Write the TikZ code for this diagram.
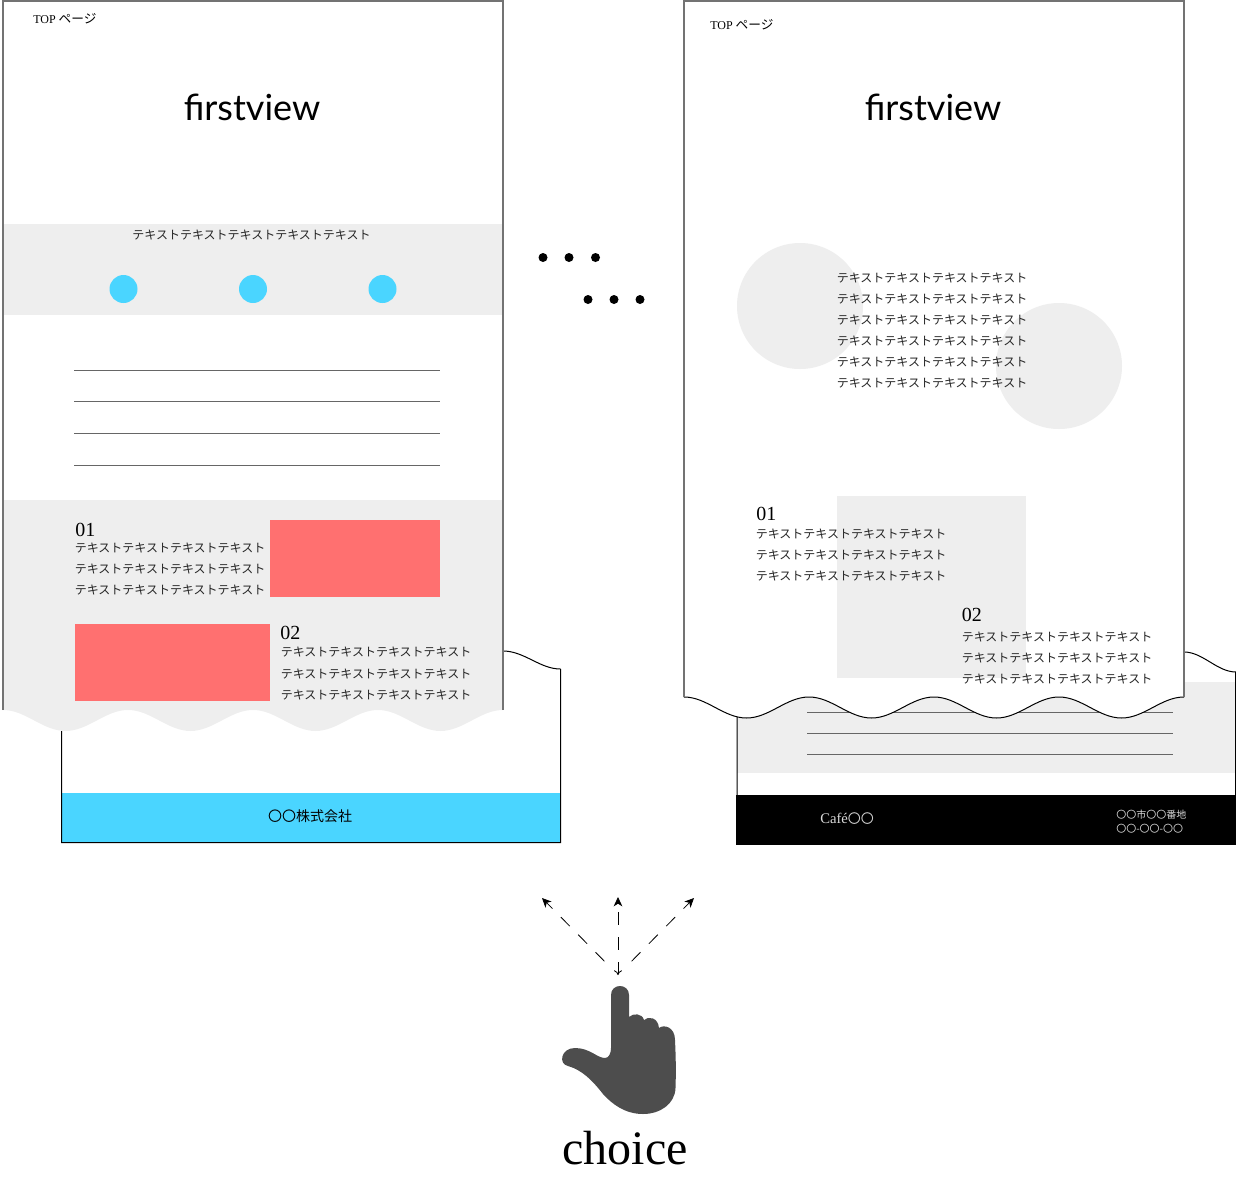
\documentclass[tikz,border=0pt]{standalone}
\usepackage{fontspec}
\usetikzlibrary{arrows.meta}
\setmainfont{Liberation Serif}
\newfontfamily\cjk{Noto Sans CJK JP}
\newfontfamily\viewfont{Lato}
\definecolor{skyband}{HTML}{4AD5FF}
\definecolor{redbox}{HTML}{FF7070}
\definecolor{paleband}{HTML}{EEEEEE}
\definecolor{handgrey}{HTML}{4D4D4D}
\tikzset{
    kana/.style={anchor=west, inner sep=0pt, text=black!85, font=\cjk\fontsize{9}{9}\selectfont},
    numeral/.style={anchor=west, inner sep=0pt, font=\fontsize{15}{15}\selectfont},
    title/.style={inner sep=0pt, font=\viewfont\fontsize{27}{27}\selectfont},
    toplabel/.style={anchor=west, inner sep=0pt, font=\fontsize{9}{9}\selectfont},
    edgeline/.style={draw=black!55, line width=0.9pt},
    rule/.style={draw=black!60, line width=0.6pt},
    wavy/.style={draw=black, line width=0.75pt},
    pick/.style={draw=black, line width=0.6pt, dash pattern=on 9.5pt off 9pt},
    picktip/.tip={Stealth[length=7pt, width=6.5pt, inset=2pt]},
    taptip/.tip={To[length=3.5pt, width=6pt]},
    footnote/.style={kana, text=black!15, font=\cjk\fontsize{7.5}{7.5}\selectfont}
}
\begin{document}
\begin{tikzpicture}[x=0.75pt, y=-0.75pt]
    \useasboundingbox (0, 0) rectangle (1236, 1179);

    % sheet behind the first page
    \fill[skyband] (61, 793) rectangle (561, 843);
    \draw[wavy]
        (61.5, 725) -- (61.5, 842.5) -- (560.5, 842.5) -- (560.5, 669)
        (503, 651) cos (532, 660) sin (560.5, 669);
    \node[kana, anchor=center, text=black, font=\cjk\fontsize{10.5}{10.5}\selectfont] (companyname) at (310, 816.5) {〇〇株式会社};

    % first page
    \fill[white] (3, 1) rectangle (503, 500);
    \fill[paleband] (3, 224) rectangle (503, 315);
    \fill[paleband] (3, 500) -- (503, 500) -- (503, 710)
        \foreach \i in {1, ..., 4} {
            cos ++(-31.25, 10.5) sin ++(-31.25, 10.5)
            cos ++(-31.25, -10.5) sin ++(-31.25, -10.5)
        } -- cycle;
    \draw[edgeline] (3, 710) -- (3, 1) -- (503, 1) -- (503, 710);
    \node[toplabel] (toplabela) at (33, 18.5) {TOP {\cjk\fontsize{9.5}{9.5}\selectfont ページ}};
    \node[title] (viewa) at (252, 107) {firstview};
    \node[kana, anchor=center] (leada) at (251.5, 235) {テキストテキストテキストテキストテキスト};
    \fill[skyband]
        \foreach \x in {123.5, 253, 382.5} {
            (\x, 289) circle[radius=14]
        };
    \path[rule]
        \foreach \y in {370, 401, 433, 465} {
            (74, \y) -- (440, \y)
        };
    \fill[redbox] (270, 520) rectangle (440, 597);
    \fill[redbox] (75, 624) rectangle (270, 701);
    \node[numeral] (numa) at (75, 529.5) {01};
    \node[numeral] (numb) at (280, 632.5) {02};
    \foreach \y/\n in {548/a, 569/b, 590/c} {
        \node[kana] (texta\n) at (74.5, \y) {テキストテキストテキストテキスト};
    }
    \foreach \y/\n in {652/a, 674/b, 695/c} {
        \node[kana] (textb\n) at (280.5, \y) {テキストテキストテキストテキスト};
    }

    % three dots between the pages
    \fill
        \foreach \x/\y in {
            543/257.5, 569/257.5, 595.5/257.5,
            588/299.5, 614/299.5, 640/299.5%
        } {
            (\x, \y) circle[radius=4.5]
        };

    % sheet behind the second page
    \fill[paleband] (737, 682) rectangle (1236, 773);
    \fill[black] (736, 795) rectangle (1236, 845);
    \draw[wavy]
        (737, 712) -- (737, 795)
        (1235.5, 672) -- (1235.5, 795)
        (1184, 652) cos (1210, 662) sin (1236, 672);
    \path[rule]
        \foreach \y in {712, 733, 754} {
            (807, \y) -- (1173, \y)
        };
    \node[toplabel, text=black!15, font=\fontsize{11}{11}\selectfont] (cafename) at (820, 818.5) {Café{\cjk\fontsize{9.75}{9.75}\selectfont 〇〇}};
    \node[footnote] (addressline) at (1116, 814.5) {〇〇市〇〇番地};
    \node[footnote] (phoneline) at (1116, 829) {〇〇-〇〇-〇〇};

    % second page
    \fill[white] (684, 697) -- (684, 1) -- (1184, 1) -- (1184, 697)
        \foreach \i in {1, ..., 4} {
            cos ++(-31.25, 10.5) sin ++(-31.25, 10.5)
            cos ++(-31.25, -10.5) sin ++(-31.25, -10.5)
        } -- cycle;
    \draw[wavy] (1184, 697)
        \foreach \i in {1, ..., 4} {
            cos ++(-31.25, 10.5) sin ++(-31.25, 10.5)
            cos ++(-31.25, -10.5) sin ++(-31.25, -10.5)
        };
    \draw[edgeline] (684, 697) -- (684, 1) -- (1184, 1) -- (1184, 697);
    \fill[paleband] (800, 306) circle[radius=63];
    \fill[paleband] (1059, 366) circle[radius=63];
    \fill[paleband] (837, 496) rectangle (1026, 678);
    \node[toplabel] (toplabelb) at (710, 24.5) {TOP {\cjk\fontsize{9.5}{9.5}\selectfont ページ}};
    \node[title] (viewb) at (933, 107) {firstview};
    \foreach \y/\n in {278/a, 299/b, 320/c, 341/d, 362/e, 383/f} {
        \node[kana] (textc\n) at (836.5, \y) {テキストテキストテキストテキスト};
    }
    \node[numeral] (numc) at (756, 513.5) {01};
    \node[numeral] (numd) at (961.5, 614.5) {02};
    \foreach \y/\n in {534/a, 555/b, 576/c} {
        \node[kana] (textd\n) at (755.5, \y) {テキストテキストテキストテキスト};
    }
    \foreach \y/\n in {637/a, 658/b, 679/c} {
        \node[kana] (texte\n) at (961.5, \y) {テキストテキストテキストテキスト};
    }

    % pointing hand and its arrows
    \coordinate (tap) at (618, 975);
    \coordinate (pickleft) at (542, 898);
    \coordinate (pickmid) at (618, 897);
    \coordinate (pickright) at (694, 898);
    \draw[pick, -{picktip}, shorten <=14.5pt] (tap) -- (pickleft);
    \draw[pick, -{picktip}, shorten <=14.5pt] (tap) -- (pickright);
    \draw[pick, {taptip}-{picktip}] (tap) -- (pickmid);
    \fill[handgrey] (611, 995)
        .. controls (611, 983) and (629, 983) .. (629, 995) -- (629, 1017)
        .. controls (633, 1013) and (642, 1013) .. (644, 1020)
        .. controls (648, 1016) and (658, 1017) .. (659, 1028)
        .. controls (664, 1024) and (675, 1027) .. (675, 1040)
        .. controls (676, 1060) and (676, 1075) .. (675.5, 1088)
        .. controls (675, 1104) and (660, 1114) .. (643, 1114)
        .. controls (625, 1114) and (612, 1104) .. (603, 1094)
        .. controls (592, 1080) and (582, 1070) .. (568, 1066)
        .. controls (558, 1064) and (561, 1048) .. (575, 1048)
        .. controls (590, 1048) and (597, 1058) .. (605, 1058)
        .. controls (609, 1058) and (611, 1053) .. (611, 1048) -- cycle;
    \node[inner sep=0pt, font=\fontsize{36}{36}\selectfont] (choicelabel) at (625, 1148) {choice};
\end{tikzpicture}
\end{document}
